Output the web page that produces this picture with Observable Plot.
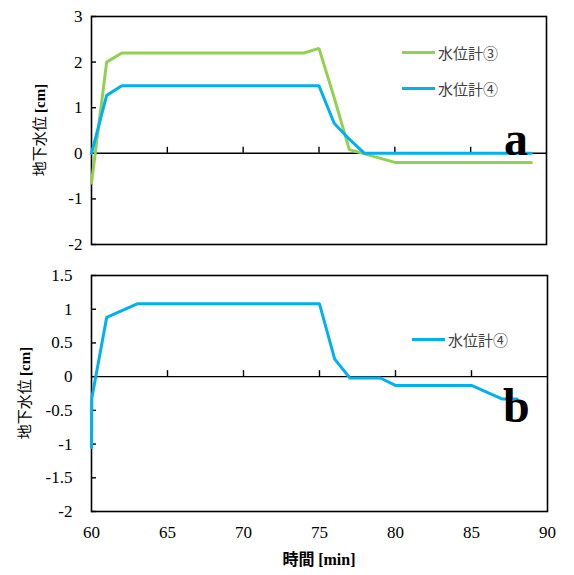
<!DOCTYPE html>
<html><head><meta charset="utf-8">
<script src="https://cdn.jsdelivr.net/npm/d3@7"></script>
<script src="https://cdn.jsdelivr.net/npm/@observablehq/plot@0.6"></script>
<style>
body{margin:0;background:#fff;}
#chart{position:relative;width:574px;height:575px;background:#fff;}
.panel{position:absolute;left:0;}
.leg{position:absolute;display:flex;align-items:center;font-family:"Noto Sans CJK JP","Noto Sans",sans-serif;font-size:15px;color:#404040;line-height:1;white-space:nowrap;}
.leg .sw{display:inline-block;width:33px;height:3px;margin-right:3px;}
.tag{position:absolute;font-family:"Liberation Serif",serif;font-weight:bold;font-size:48px;line-height:1;color:#000;}
</style>
</head><body>
<div id="chart"></div>
<script>
// ---- data ----
const time3a = [60, 61, 62, 74, 75, 76, 77, 80, 89];
const level3a = [-0.65, 2.0, 2.2, 2.2, 2.3, 1.22, 0.08, -0.2, -0.2];
const time4a = [60, 61, 62, 75, 76, 77, 78, 89];
const level4a = [0, 1.27, 1.48, 1.48, 0.66, 0.31, 0, 0];
const time4b = [60, 60.02, 61, 63, 75, 76, 77, 79, 80, 85, 87, 88];
const level4b = [-1.05, -0.32, 0.88, 1.08, 1.08, 0.26, -0.02, -0.02, -0.13, -0.13, -0.33, -0.33];
const xTicks = [60, 65, 70, 75, 80, 85, 90];
const yTicksTop = [-2, -1, 0, 1, 2, 3];
const yTicksBottom = [-2, -1.5, -1, -0.5, 0, 0.5, 1, 1.5];
const seriesNames = ["水位計③", "水位計④"];
const colors = ["#92d050", "#00b0f0"];
const yTitle = ["地下水位", "[cm]"];
const xTitle = ["時間", "[min]"];

const toRows = (ts, vs) => ts.map((t, i) => ({t, v: vs[i]}));
const serif = '"Liberation Serif", serif';
const sansJP = '"Noto Sans CJK JP", "Noto Sans", sans-serif';
const chart = document.getElementById("chart");

function makePanel({height, mt, mb, mr, yDomain, yTicks, lines, pad, showX}) {
  const W = 574, ml = 91;
  const innerH = height - mt - mb;
  const tickLen = 6 * (yDomain[1] - yDomain[0]) / innerH;
  const innerX = xTicks.slice(1, -1);
  const marks = [
    Plot.ruleY([0], {stroke: "black", strokeWidth: 1.4}),
    Plot.ruleX(innerX, {x: d => d, y1: 0, y2: tickLen, stroke: "black", strokeWidth: 1.4}),
    Plot.axisY(yTicks, {tickSize: -5, tickPadding: pad, tickFormat: d => String(d), label: null, strokeWidth: 1.4, fontSize: 17, fontFamily: serif}),
    Plot.frame({stroke: "black", strokeWidth: 1.6}),
    ...lines.map(l => Plot.line(l.rows, {x: "t", y: "v", stroke: l.color, strokeWidth: 3, strokeLinejoin: "miter"}))
  ];
  if (showX) marks.push(Plot.axisX(xTicks, {tickSize: 0, tickPadding: 14, tickFormat: d => String(d), label: null, fontSize: 17, fontFamily: serif}));
  const svg = Plot.plot({
    width: W, height, marginLeft: ml, marginRight: mr, marginTop: mt, marginBottom: mb,
    style: {fontSize: "17px", color: "black", background: "transparent", overflow: "visible"},
    x: {domain: [60, 90], axis: showX ? undefined : null},
    y: {domain: yDomain},
    marks
  });
  d3.select(svg).style("font-family", serif);
  return svg;
}

function addTitle(svg, parts, x, y, rotate, size, kWeight) {
  const t = d3.select(svg).append("text")
    .attr("transform", `translate(${x},${y})` + (rotate ? " rotate(-90)" : ""))
    .attr("text-anchor", "middle")
    .style("font-size", size + "px")
    .attr("fill", "black");
  t.append("tspan").style("font-family", sansJP).style("font-weight", kWeight).text(parts[0] + " ");
  t.append("tspan").style("font-family", serif).style("font-weight", "bold").text(parts[1]);
}

const topPlot = makePanel({
  height: 258, mt: 16, mb: 14, mr: 28, yDomain: [-2, 3], yTicks: yTicksTop, pad: 14, showX: false,
  lines: [
    {rows: toRows(time3a, level3a), color: colors[0]},
    {rows: toRows(time4a, level4a), color: colors[1]}
  ]
});
topPlot.classList.add("panel"); topPlot.style.top = "0px";
addTitle(topPlot, yTitle, 45, 130, true, 15, 400);
chart.appendChild(topPlot);

const bottomPlot = makePanel({
  height: 317, mt: 17, mb: 64, mr: 27, yDomain: [-2, 1.5], yTicks: yTicksBottom, pad: 24, showX: true,
  lines: [{rows: toRows(time4b, level4b), color: colors[1]}]
});
bottomPlot.classList.add("panel"); bottomPlot.style.top = "258px";
addTitle(bottomPlot, yTitle, 30, 135, true, 15, 400);
addTitle(bottomPlot, xTitle, 319, 307, false, 16, "bold");
chart.appendChild(bottomPlot);

function legend(name, color, left, cy) {
  const d = document.createElement("div");
  d.className = "leg";
  d.style.left = left + "px";
  d.style.top = (cy - 9) + "px";
  d.style.height = "18px";
  d.innerHTML = `<span class="sw" style="background:${color}"></span><span>${name}</span>`;
  chart.appendChild(d);
}
legend(seriesNames[0], colors[0], 402, 52);
legend(seriesNames[1], colors[1], 402, 88);
legend(seriesNames[1], colors[1], 412, 339);

function tag(txt, left, baseline) {
  const d = document.createElement("div");
  d.className = "tag";
  d.textContent = txt;
  d.style.left = left + "px";
  d.style.top = (baseline - 40) + "px";
  chart.appendChild(d);
}
tag("a", 504, 155);
tag("b", 503, 422);
</script>
</body></html>
